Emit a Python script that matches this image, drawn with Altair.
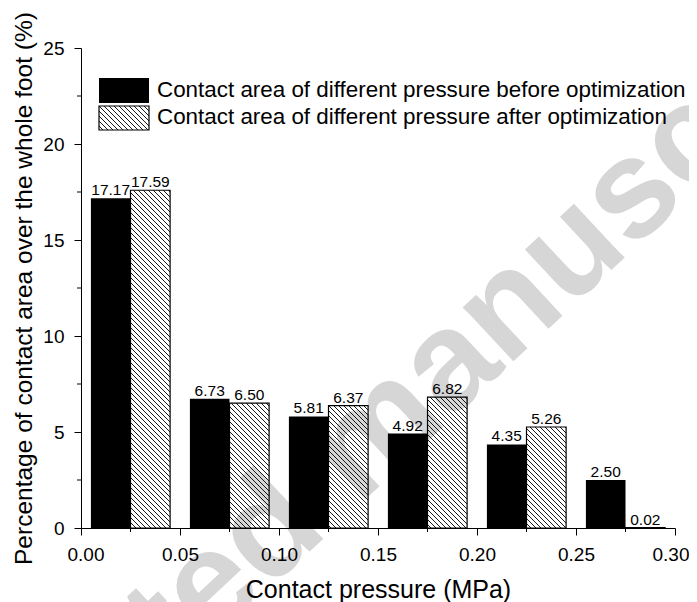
import altair as alt
import pandas as pd

# ---------------- data ----------------
group_centers = [0.025, 0.075, 0.125, 0.175, 0.225, 0.275]
before_vals = [17.17, 6.73, 5.81, 4.92, 4.35, 2.50]
after_vals = [17.59, 6.50, 6.37, 6.82, 5.26, 0.02]
series_names = [
    "Contact area of different pressure before optimization",
    "Contact area of different pressure after optimization",
]
x_ticks = [0.0, 0.05, 0.10, 0.15, 0.20, 0.25, 0.30]
x_minor = [0.025, 0.075, 0.125, 0.175, 0.225, 0.275]
y_ticks = [0, 5, 10, 15, 20, 25]
y_minor = [2.5, 7.5, 12.5, 17.5, 22.5]
x_title = "Contact pressure (MPa)"
y_title = "Percentage of contact area over the whole foot (%)"
watermark = "Accepted manuscript"

# ---------------- geometry ----------------
W, H = 594, 480
XMAX, YMAX = 0.30, 25.0
KX, KY = W / XMAX, H / YMAX
BAR_W = 0.02
FONT = "Liberation Sans"

rows = []
for c, b, a in zip(group_centers, before_vals, after_vals):
    rows.append({"x0": c - BAR_W, "x1": c, "v": b, "base": 0.0, "s": "before", "lab": f"{b:.2f}", "xc": c - BAR_W / 2})
    rows.append({"x0": c, "x1": c + BAR_W, "v": a, "base": 0.0, "s": "after", "lab": f"{a:.2f}", "xc": c + BAR_W / 2})
bars = pd.DataFrame(rows)


def hatch_segments(X0, X1, Yt, Yb, spacing=5.0):
    """diagonal '\\' lines inside a pixel rectangle"""
    segs = []
    k0 = int((Yt - X1) // spacing) - 1
    k1 = int((Yb - X0) // spacing) + 1
    for k in range(k0, k1 + 1):
        d = k * spacing
        lo = max(X0, Yt - d)
        hi = min(X1, Yb - d)
        if hi - lo > 0.3:
            segs.append((lo, lo + d, hi, hi + d))
    return segs


hrows = []
for r in rows:
    if r["s"] != "after":
        continue
    X0, X1 = r["x0"] * KX, r["x1"] * KX
    Yt, Yb = (YMAX - r["v"]) * KY, YMAX * KY
    for (xa, ya, xb, yb) in hatch_segments(X0, X1, Yt, Yb):
        hrows.append({"hx": xa / KX, "hy": YMAX - ya / KY, "hx2": xb / KX, "hy2": YMAX - yb / KY})
hatch = pd.DataFrame(hrows)

# legend box positions (pixels inside plot)
LB_X0, LB_X1 = 18, 68
LB1_Y0, LB1_Y1 = 30, 55
LB2_Y0, LB2_Y1 = 58, 82
lrows = []
for (xa, ya, xb, yb) in hatch_segments(LB_X0, LB_X1, LB2_Y0, LB2_Y1):
    lrows.append({"hx": xa / KX, "hy": YMAX - ya / KY, "hx2": xb / KX, "hy2": YMAX - yb / KY})
lhatch = pd.DataFrame(lrows)

xscale = alt.Scale(domain=[0, XMAX], nice=False, zero=False)
yscale = alt.Scale(domain=[0, YMAX], nice=False)
xaxis = alt.Axis(
    values=x_ticks, format=".2f", title=x_title, grid=False,
    tickSize=7, labelPadding=10, labelFontSize=19, titleFontSize=25,
    titlePadding=13, labelFlush=True, labelFlushOffset=14, zindex=2)
yaxis = alt.Axis(
    values=y_ticks, format="d", title=y_title, grid=False,
    tickSize=7, labelPadding=10, labelFontSize=19, titleFontSize=24.5,
    titlePadding=6, labelFlush=False, zindex=2)


def X(f):
    return alt.X(f, scale=xscale, axis=xaxis)


def Y(f):
    return alt.Y(f, scale=yscale, axis=yaxis)


base = alt.Chart(bars)

# watermark
wm = alt.Chart(pd.DataFrame({"t": [watermark]})).mark_text(
    angle=317, fontSize=140, fontWeight="bold", color="#d6d6d6", font=FONT,
    align="center", baseline="middle"
).encode(x=alt.value(280), y=alt.value(398), text="t:N")

black = base.transform_filter(alt.datum.s == "before").mark_rect(color="black").encode(
    x=X("x0:Q"), x2="x1:Q", y=Y("v:Q"), y2="base:Q",
)

hlines = alt.Chart(hatch).mark_rule(color="black", strokeWidth=0.9).encode(
    x=X("hx:Q"), x2="hx2:Q", y=Y("hy:Q"), y2="hy2:Q",
)

outline = base.transform_filter(alt.datum.s == "after").mark_rect(
    fillOpacity=0, stroke="black", strokeWidth=1.2
).encode(
    x=X("x0:Q"), x2="x1:Q", y=Y("v:Q"), y2="base:Q",
)

labels = base.mark_text(fontSize=15.5, font=FONT, color="black", baseline="alphabetic", dy=-3).encode(
    x=X("xc:Q"), y=Y("v:Q"), text="lab:N",
)

xminor = alt.Chart(pd.DataFrame({"m": x_minor})).mark_rule(color="black", strokeWidth=1).encode(
    x=X("m:Q"), y=alt.value(H), y2=alt.value(H + 4)
)
yminor = alt.Chart(pd.DataFrame({"m": y_minor})).mark_rule(color="black", strokeWidth=1).encode(
    y=Y("m:Q"), x=alt.value(0), x2=alt.value(-4)
)

leg_df = pd.DataFrame({"label": series_names})
leg_black = alt.Chart(leg_df.iloc[[0]]).mark_rect(color="black").encode(
    x=alt.value(LB_X0), x2=alt.value(LB_X1), y=alt.value(LB1_Y0), y2=alt.value(LB1_Y1)
)
leg_hbox = alt.Chart(leg_df.iloc[[1]]).mark_rect(fillOpacity=0, stroke="black", strokeWidth=1.2).encode(
    x=alt.value(LB_X0), x2=alt.value(LB_X1), y=alt.value(LB2_Y0), y2=alt.value(LB2_Y1)
)
leg_hlines = alt.Chart(lhatch).mark_rule(color="black", strokeWidth=0.9).encode(
    x=X("hx:Q"), x2="hx2:Q", y=Y("hy:Q"), y2="hy2:Q",
)
leg_t1 = alt.Chart(leg_df.iloc[[0]]).mark_text(
    align="left", baseline="alphabetic", fontSize=22.4, font=FONT, color="black"
).encode(x=alt.value(76), y=alt.value(49), text="label:N")
leg_t2 = alt.Chart(leg_df.iloc[[1]]).mark_text(
    align="left", baseline="alphabetic", fontSize=22.4, font=FONT, color="black"
).encode(x=alt.value(76), y=alt.value(75.5), text="label:N")

chart = alt.layer(
    wm, black, hlines, outline, labels, xminor, yminor,
    leg_black, leg_hlines, leg_hbox, leg_t1, leg_t2
).properties(
    width=W, height=H,
    autosize=alt.AutoSizeParams(type="none"),
    padding={"left": 73, "top": 40, "right": 14, "bottom": 78},
).configure_view(stroke=None).configure_axis(
    domainColor="black", tickColor="black", labelColor="black", titleColor="black",
    labelFont=FONT, titleFont=FONT, titleFontWeight="normal", domainWidth=1, tickWidth=1
)

chart.save("out.html", embed_options={"renderer": "svg", "actions": False})
